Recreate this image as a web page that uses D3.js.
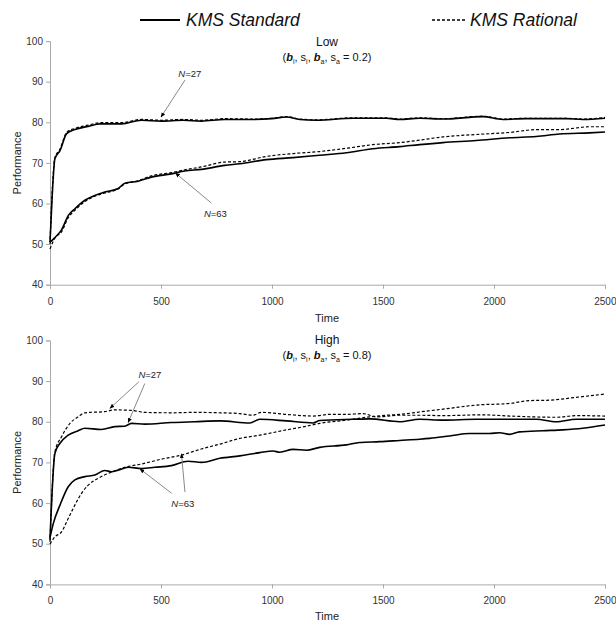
<!DOCTYPE html>
<html><head><meta charset="utf-8">
<script src="https://cdn.jsdelivr.net/npm/d3@7"></script>
<style>
body{margin:0;background:#fff;}
svg{font-family:"Liberation Sans",Arial,sans-serif;}
</style></head>
<body><svg id="c" width="616" height="626"></svg>
<script>
// ---- data ----
const xTicks = [0, 500, 1000, 1500, 2000, 2500];
const yTicks = [40, 50, 60, 70, 80, 90, 100];
const legendLabels = ["KMS Standard", "KMS Rational"];

const lowN27StdT = [0,10,22,45,75,112,172,225,322,412,502,600,682,787,915,1000,1065,1125,1200,1365,1515,1575,1665,1770,1950,2040,2145,2325,2400,2500];
const lowN27StdV = [50.5,62,71.0,73.0,77.2,78.2,79.0,79.6,79.6,80.5,80.3,80.5,80.3,80.7,80.7,80.9,81.3,80.7,80.5,81.0,81.0,80.7,81.0,80.8,81.4,80.7,80.9,80.9,80.7,81.0];
const lowN27RatT = lowN27StdT;
const lowN27RatV = [50.0,63,71.3,73.4,77.5,78.5,79.3,79.9,79.9,80.7,80.5,80.7,80.5,80.9,80.8,81.0,81.4,80.8,80.6,81.1,81.1,80.8,81.1,80.9,81.5,80.8,81.0,81.0,80.8,81.2];

const lowN63StdT = [0,22,52,82,112,157,202,247,307,337,397,457,547,607,682,787,855,975,1095,1215,1335,1455,1575,1665,1770,1920,2070,2190,2295,2430,2500];
const lowN63StdV = [50.5,51.6,53.5,57.0,58.7,60.8,62.0,62.8,63.7,65.0,65.5,66.5,67.3,68.0,68.4,69.4,69.8,70.8,71.3,71.9,72.5,73.5,74.0,74.5,75.0,75.5,76.2,76.5,77.1,77.4,77.6];
const lowN63RatT = lowN63StdT;
const lowN63RatV = [48.8,51.5,53.0,56.5,58.3,60.5,61.8,62.6,63.6,64.8,65.6,66.8,67.6,68.3,69.0,70.2,70.3,71.6,72.3,72.8,73.6,74.5,75.0,75.6,76.4,77.0,77.5,78.2,78.2,78.9,78.9];

const highN27RatT = [0,22,52,90,127,157,247,292,367,427,547,652,765,855,915,952,1065,1185,1260,1335,1410,1470,1575,1665,1770,1950,2070,2280,2370,2500];
const highN27RatV = [50.5,72.6,76.3,79.6,81.2,82.2,82.5,82.9,82.8,82.3,82.2,82.3,82.2,82.0,81.6,82.3,81.8,81.4,81.8,81.8,82.0,81.2,81.6,81.6,81.5,81.7,81.4,81.1,81.5,81.4];
const highN27StdT = [0,22,45,82,127,157,232,292,337,367,427,547,652,765,900,945,1065,1185,1215,1365,1440,1575,1665,1770,1920,2070,2190,2280,2370,2500];
const highN27StdV = [51.0,72.2,74.7,76.7,77.8,78.4,78.1,78.8,78.9,79.6,79.4,79.8,80.0,80.2,79.7,80.6,80.2,79.7,80.3,80.6,80.7,80.0,80.6,80.4,80.6,80.6,80.6,80.0,80.6,80.6];

const highN63StdT = [0,15,45,82,112,157,202,247,277,307,352,412,472,547,622,682,765,855,945,1005,1035,1095,1155,1215,1335,1395,1485,1575,1665,1710,1800,1890,1980,2025,2070,2115,2220,2310,2400,2500];
const highN63StdV = [51.5,55.0,59.5,64.0,65.7,66.5,66.9,68.0,67.7,68.1,68.8,68.5,68.8,69.2,70.3,70.0,71.0,71.6,72.4,72.8,72.5,73.2,73.0,73.7,74.3,74.9,75.1,75.4,75.7,75.9,76.5,77.1,77.1,77.3,76.9,77.5,77.8,78.0,78.4,79.2];
const highN63RatT = [0,22,52,82,112,142,172,217,277,337,412,502,592,682,765,855,945,1065,1155,1215,1335,1425,1515,1575,1665,1710,1800,1920,2070,2160,2250,2370,2500];
const highN63RatV = [49.9,51.7,52.9,56.2,59.5,62.4,64.4,66.1,67.6,68.8,69.6,70.8,71.8,73.3,74.5,75.9,76.7,78.0,78.9,79.6,80.4,81.1,81.6,81.8,82.4,82.7,83.3,84.1,84.5,85.2,85.3,86.0,86.8];

// annotations: label [t, v] and arrows [[t0,v0],[t1,v1]]
const lowAnnotations = [
  {label: "27", at: [630, 92.1], arrows: [[[608, 90.4], [500, 81.3]]]},
  {label: "63", at: [745, 57.6], arrows: [[[727, 60.1], [565, 67.5]]]}
];
const highAnnotations = [
  {label: "27", at: [450, 91.6], arrows: [[[400, 89.8], [270, 83.3]], [[427, 89.4], [352, 79.8]]]},
  {label: "63", at: [598, 60.0], arrows: [[[548, 62.4], [405, 68.4]], [[608, 62.7], [592, 72.1]]]}
];

const panels = [
  {title: "Low", value: "0.2", top: 41.1, bottom: 284.7, timeY: 322,
   series: [
     {t: lowN27StdT, v: lowN27StdV, dash: false},
     {t: lowN27RatT, v: lowN27RatV, dash: true},
     {t: lowN63StdT, v: lowN63StdV, dash: false},
     {t: lowN63RatT, v: lowN63RatV, dash: true}],
   ann: lowAnnotations, titleY: 46},
  {title: "High", value: "0.8", top: 340.4, bottom: 584.4, timeY: 620,
   series: [
     {t: highN27StdT, v: highN27StdV, dash: false},
     {t: highN27RatT, v: highN27RatV, dash: true},
     {t: highN63StdT, v: highN63StdV, dash: false},
     {t: highN63RatT, v: highN63RatV, dash: true}],
   ann: highAnnotations, titleY: 344}
];

const svg = d3.select("#c");
const defs = svg.append("defs");
defs.append("marker").attr("id", "ah").attr("viewBox", "0 0 10 10")
  .attr("refX", 9).attr("refY", 5).attr("markerWidth", 5).attr("markerHeight", 5)
  .attr("markerUnits", "userSpaceOnUse").attr("orient", "auto")
  .append("path").attr("d", "M0,1 L10,5 L0,9 Z").attr("fill", "#000");

// legend
const lg = svg.append("g");
lg.append("line").attr("x1", 140).attr("x2", 180).attr("y1", 20).attr("y2", 20)
  .attr("stroke", "#000").attr("stroke-width", 2.2);
lg.append("text").attr("x", 186).attr("y", 26).text(legendLabels[0])
  .attr("font-size", 17.5).attr("font-style", "italic").attr("fill", "#111");
lg.append("line").attr("x1", 432).attr("x2", 466).attr("y1", 20).attr("y2", 20)
  .attr("stroke", "#000").attr("stroke-width", 1.3).attr("stroke-dasharray", "3,2");
lg.append("text").attr("x", 470).attr("y", 26).text(legendLabels[1])
  .attr("font-size", 17.5).attr("font-style", "italic").attr("fill", "#111");

panels.forEach(p => {
  const x = d3.scaleLinear().domain([0, 2500]).range([50, 605]);
  const y = d3.scaleLinear().domain([40, 100]).range([p.bottom, p.top]);
  const g = svg.append("g");

  // axes
  const ya = g.append("g").attr("transform", "translate(50,0)")
    .call(d3.axisLeft(y).tickValues(yTicks).tickFormat(d3.format("d")).tickSize(4).tickPadding(3));
  const xa = g.append("g").attr("transform", `translate(0,${p.bottom})`)
    .call(d3.axisBottom(x).tickValues(xTicks).tickFormat(d3.format("d")).tickSize(4).tickPadding(9));
  [ya, xa].forEach(a => {
    a.select(".domain").attr("stroke", "#aaa");
    a.selectAll(".tick line").attr("stroke", "#aaa");
    a.selectAll("text").attr("font-size", 10).attr("fill", "#333")
      .attr("font-family", "Liberation Sans, Arial, sans-serif");
  });
  xa.selectAll(".tick text").filter(d => d === 2500).attr("text-anchor", "end").attr("dx", 11);

  // labels
  g.append("text").attr("x", 327).attr("y", p.timeY).attr("text-anchor", "middle")
    .attr("font-size", 11).attr("fill", "#222").text("Time");
  const mid = (p.top + p.bottom) / 2;
  g.append("text").attr("transform", `translate(21,${mid}) rotate(-90)`)
    .attr("text-anchor", "middle").attr("font-size", 11).attr("fill", "#222").text("Performance");

  // title
  g.append("text").attr("x", 327).attr("y", p.titleY).attr("text-anchor", "middle")
    .attr("font-size", 12).attr("fill", "#111").text(p.title);
  const st = g.append("text").attr("x", 327).attr("y", p.titleY + 15).attr("text-anchor", "middle")
    .attr("font-size", 11).attr("fill", "#111");
  st.append("tspan").text("(");
  const parts = [["b", "i", true], ["s", "i", false], ["b", "a", true], ["s", "a", false]];
  parts.forEach((pt, i) => {
    st.append("tspan").text(pt[0]).attr("font-weight", pt[2] ? "bold" : null)
      .attr("font-style", pt[2] ? "italic" : null);
    st.append("tspan").text(pt[1]).attr("font-size", 7).attr("dy", 3);
    st.append("tspan").text(i < 3 ? ", " : " = " + p.value + ")").attr("dy", -3);
  });

  // series
  const line = d3.line().x(d => x(d[0])).y(d => y(d[1])).curve(d3.curveMonotoneX);
  p.series.forEach(s => {
    const pts = s.t.map((t, i) => [t, s.v[i]]);
    g.append("path").attr("d", line(pts)).attr("fill", "none").attr("stroke", "#000")
      .attr("stroke-width", s.dash ? 1.2 : 1.6)
      .attr("stroke-dasharray", s.dash ? "3,2" : null);
  });

  // annotations
  p.ann.forEach(a => {
    a.arrows.forEach(ar => {
      g.append("line").attr("x1", x(ar[0][0])).attr("y1", y(ar[0][1]))
        .attr("x2", x(ar[1][0])).attr("y2", y(ar[1][1]))
        .attr("stroke", "#888").attr("stroke-width", 1).attr("marker-end", "url(#ah)");
    });
    const t = g.append("text").attr("x", x(a.at[0])).attr("y", y(a.at[1]) + 3.5)
      .attr("text-anchor", "middle").attr("font-size", 9.5).attr("fill", "#222");
    t.append("tspan").text("N").attr("font-style", "italic");
    t.append("tspan").text("=" + a.label);
  });
});
</script></body></html>
